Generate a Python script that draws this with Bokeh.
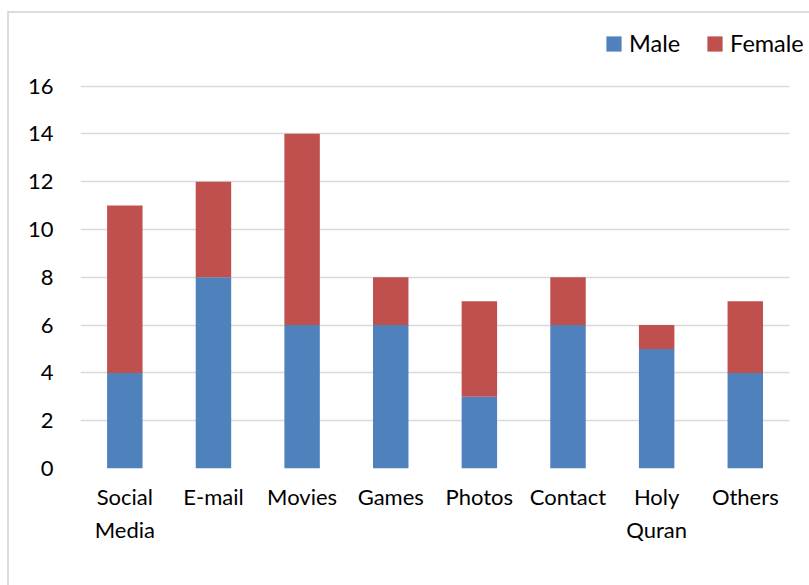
from bokeh.plotting import figure
from bokeh.models import ColumnDataSource, Legend, LegendItem, FixedTicker, Range1d
from bokeh.embed import file_html
from bokeh.resources import INLINE

categories = ["Social\nMedia", "E-mail", "Movies", "Games", "Photos", "Contact", "Holy\nQuran", "Others"]
male = [4, 8, 6, 6, 3, 6, 5, 4]
female = [7, 4, 8, 2, 4, 2, 1, 3]
series = ["Male", "Female"]
colors = ["#4F81BD", "#C0504D"]
y_ticks = [0, 2, 4, 6, 8, 10, 12, 14, 16]

FONT = "Lato"
GRID = "#d9d9d9"

positions = list(range(len(categories)))
source = ColumnDataSource(data=dict(x=positions, Male=male, Female=female))

# The frame reaches up and right past the bars so the legend can sit in the top-right corner
p = figure(
    x_range=Range1d(-0.5, 7.747), y_range=Range1d(0, 18.95),
    width=802, height=574,
    margin=(11, 0, 0, 7),
    output_backend="svg", toolbar_location=None,
    min_border_left=71, min_border_right=0,
    min_border_top=2, min_border_bottom=119,
    styles={"border-left": "2px solid #dcdcdc", "border-top": "2px solid #dcdcdc"},
)

renderers = p.vbar_stack(series, x="x", width=0.4, color=colors, line_color=None, source=source)

p.outline_line_color = None
p.background_fill_color = "white"
p.border_fill_color = "white"

p.xgrid.grid_line_color = None
p.ygrid.ticker = FixedTicker(ticks=y_ticks)
p.ygrid.grid_line_color = GRID
p.ygrid.grid_line_width = 1.5
p.ygrid.cross_bounds = (-0.5, 7.5)
p.ygrid.level = "underlay"

p.yaxis.ticker = FixedTicker(ticks=y_ticks)
p.yaxis.axis_line_color = None
p.yaxis.major_tick_line_color = None
p.yaxis.minor_tick_line_color = None
p.yaxis.major_label_standoff = 21
p.yaxis.major_label_text_font = FONT
p.yaxis.major_label_text_font_size = "22px"
p.yaxis.major_label_text_color = "black"

p.xaxis.ticker = FixedTicker(ticks=positions)
p.xaxis.major_label_overrides = {i: c for i, c in zip(positions, categories)}
p.xaxis.axis_line_color = None
p.xaxis.major_tick_line_color = None
p.xaxis.minor_tick_line_color = None
p.xaxis.major_label_standoff = 8
p.xaxis.major_label_text_font = FONT
p.xaxis.major_label_text_font_size = "22px"
p.xaxis.major_label_text_color = "black"
p.xaxis.major_label_text_line_height = 1.25

legend = Legend(
    items=[LegendItem(label=s, renderers=[r]) for s, r in zip(series, renderers)],
    orientation="horizontal",
    location=(524, 411),
    label_text_font=FONT,
    label_text_font_size="23.5px",
    label_text_color="black",
    glyph_width=19, glyph_height=19,
    label_standoff=6, spacing=25,
    padding=4, margin=0,
    border_line_color=None,
    background_fill_alpha=0,
)
p.add_layout(legend, "center")

open("out.html", "w").write(file_html(p, INLINE))
